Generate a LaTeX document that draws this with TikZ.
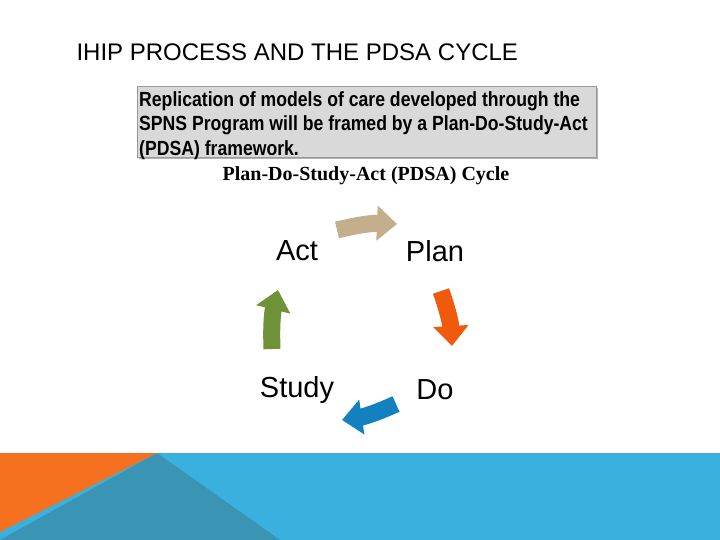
\documentclass[tikz,border=0pt]{standalone}
\usepackage{fontspec}
\setmainfont{Liberation Sans}
\newfontfamily\serif{Liberation Serif}
\usetikzlibrary{arrows.meta}
\definecolor{orng}{HTML}{F57120}
\definecolor{teal}{HTML}{3A94B4}
\definecolor{lblue}{HTML}{3AB0DE}
\definecolor{tan}{HTML}{C4AE8C}
\definecolor{porng}{HTML}{F05A0C}
\definecolor{pblue}{HTML}{1380C0}
\definecolor{pgreen}{HTML}{6F9238}
\begin{document}
\begin{tikzpicture}[x=1pt,y=-1pt,
  lbl/.style={font=\fontsize{29}{34}\selectfont},
  cyc/.style={line width=17pt,-{Triangle[length=20pt,width=34pt]}}]
\useasboundingbox (0,0) rectangle (720,540);
\fill[lblue] (0,453) rectangle (720,540);
\fill[teal] (157,453) -- (280,540) -- (0,540) -- cycle;
\fill[orng] (0,453) -- (157,453) -- (0,532) -- cycle;
\node[anchor=west,font=\fontsize{24}{28}\selectfont] (title) at (73,52) {IHIP PROCESS AND THE PDSA CYCLE};
\fill[gray!60] (139,88) rectangle (598,159);
\node[draw=gray!80,fill=gray!30,minimum width=459pt,minimum height=71pt,anchor=north west,inner sep=0pt] (box) at (137,86) {};
\node[anchor=north west,align=left,font=\bfseries\fontsize{20.5}{24.5}\selectfont,inner sep=0pt] (boxt) at (139,91)
 {\addfontfeature{FakeStretch=0.86}Replication of models of care developed through the\\
 \addfontfeature{FakeStretch=0.86}SPNS Program will be framed by a Plan-Do-Study-Act\\
 \addfontfeature{FakeStretch=0.86}(PDSA) framework.};
\node[font=\serif\bfseries\fontsize{20}{22}\selectfont] (cap) at (366,176) {Plan-Do-Study-Act (PDSA) Cycle};
\node[lbl] (act) at (297,251) {Act};
\node[lbl] (plan) at (435,251) {Plan};
\node[lbl] (study) at (297,390) {Study};
\node[lbl] (do) at (435,390) {Do};
\draw[cyc,tan] (337,230) to[bend left=8] (397,224);
\draw[cyc,porng] (441,291) to[bend left=8] (452,346);
\draw[cyc,pblue] (396,404) to[bend left=8] (342,420);
\draw[cyc,pgreen] (272,349) to[bend left=8] (278,290);
\end{tikzpicture}
\end{document}
